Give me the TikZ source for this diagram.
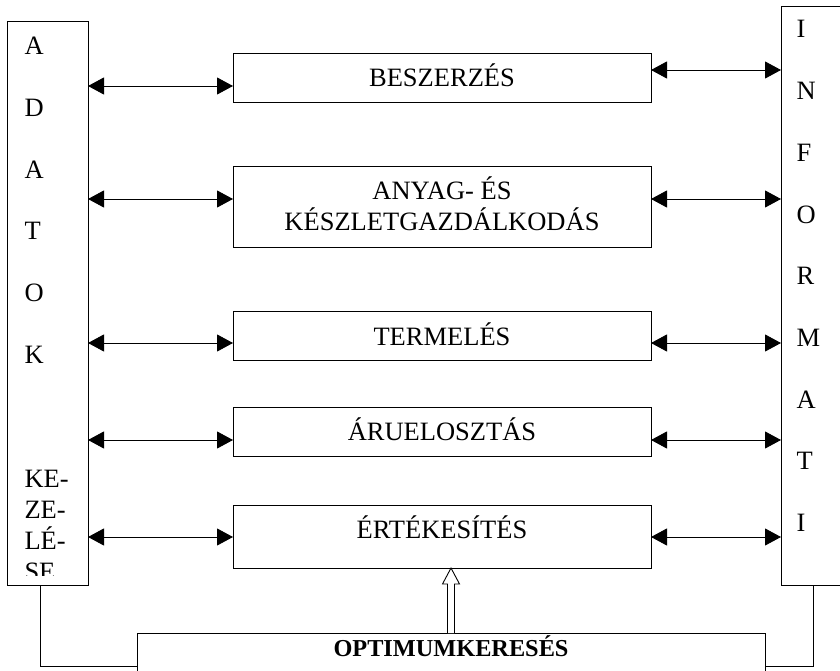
\documentclass[tikz,border=0pt]{standalone}
\usepackage{fontspec}
\setmainfont{Liberation Serif}
\usetikzlibrary{arrows.meta,calc}
\begin{document}
\begin{tikzpicture}[x=1pt,y=-1pt,
  every node/.style={inner sep=0pt,outer sep=0pt},
  box/.style={draw,line width=0.9pt},
  midbox/.style={box,minimum width=418pt},
  txt/.style={font=\fontsize{26.5}{30.5}\selectfont,anchor=base},
  lt/.style={font=\fontsize{26.5}{30.5}\selectfont,anchor=base west},
  biarr/.style={line width=0.9pt,{Triangle[length=16pt,width=17pt]}-{Triangle[length=16pt,width=17pt]}},
  conn/.style={line width=0.9pt}]
\useasboundingbox (0,0) rectangle (840,671);
\clip (0,0) rectangle (840,671);
% side columns
\node[box,minimum width=81pt,minimum height=564pt,anchor=north west] (adat) at (7,21) {};
\node[box,minimum width=70pt,minimum height=579pt,anchor=north west] (info) at (781,6) {};
% middle boxes
\node[midbox,minimum height=49pt] (besz) at (442,77.5) {};
\node[midbox,minimum height=81pt] (anyag) at (442,206.5) {};
\node[midbox,minimum height=49pt] (term) at (442,335.5) {};
\node[midbox,minimum height=49pt] (aru) at (442,431.5) {};
\node[midbox,minimum height=63pt] (ert) at (442,536.5) {};
\node[box,minimum width=628pt,minimum height=60pt,anchor=north] (opt) at (451,633) {};
% box texts
\node[txt] (tbesz) at (442,87) {BESZERZÉS};
\node[txt] (tanyag1) at (442,199.5) {ANYAG- ÉS};
\node[txt] (tanyag2) at (442,230.5) {KÉSZLETGAZDÁLKODÁS};
\node[txt] (tterm) at (442,345) {TERMELÉS};
\node[txt] (taru) at (442,440.5) {ÁRUELOSZTÁS};
\node[txt] (tert) at (442,538) {ÉRTÉKESÍTÉS};
\node[anchor=base,font=\fontsize{24.3}{28}\selectfont\bfseries] (topt) at (451,656) {OPTIMUMKERESÉS};
% left column letters
\begin{scope}
\clip (7,21) rectangle (88,575);
\node[lt] (l1) at (24.5,55) {A};
\node[lt] (l2) at (24.5,116.6) {D};
\node[lt] (l3) at (24.5,178.2) {A};
\node[lt] (l4) at (24.5,239.8) {T};
\node[lt] (l5) at (24.5,301.4) {O};
\node[lt] (l6) at (24.5,363) {K};
\node[lt] (l7) at (24.5,487) {KE-};
\node[lt] (l8) at (24.5,518) {ZE-};
\node[lt] (l9) at (24.5,549) {LÉ-};
\node[lt] (l10) at (24.5,580) {SE};
\end{scope}
% right column letters
\node[lt] (r1) at (796.5,38) {I};
\node[lt] (r2) at (796.5,99.7) {N};
\node[lt] (r3) at (796.5,161.4) {F};
\node[lt] (r4) at (796.5,223.1) {O};
\node[lt] (r5) at (796.5,284.8) {R};
\node[lt] (r6) at (796.5,346.5) {M};
\node[lt] (r7) at (796.5,408.2) {A};
\node[lt] (r8) at (796.5,469.9) {T};
\node[lt] (r9) at (796.5,531.6) {I};
% left arrows
\draw[biarr] (adat.east |- 0,86) -- (besz.west |- 0,86);
\draw[biarr] (adat.east |- 0,199) -- (anyag.west |- 0,199);
\draw[biarr] (adat.east |- 0,343) -- (term.west |- 0,343);
\draw[biarr] (adat.east |- 0,440) -- (aru.west |- 0,440);
\draw[biarr] (adat.east |- 0,537) -- (ert.west |- 0,537);
% right arrows
\draw[biarr] (besz.east |- 0,70) -- (info.west |- 0,70);
\draw[biarr] (anyag.east |- 0,199) -- (info.west |- 0,199);
\draw[biarr] (term.east |- 0,343) -- (info.west |- 0,343);
\draw[biarr] (aru.east |- 0,440) -- (info.west |- 0,440);
\draw[biarr] (ert.east |- 0,537) -- (info.west |- 0,537);
% connectors to optimum box
\draw[conn] ($(adat.south west)+(33,0)$) |- ($(opt.north west)+(0,33)$);
\draw[conn] ($(info.south west)+(32,0)$) |- ($(opt.north east)+(0,33)$);
% hollow arrow
\coordinate (tip) at (opt.north |- ert.south);
\draw[conn,fill=white] ($(opt.north)+(-3.5,0)$) -- ($(tip)+(-3.5,16)$) -- ($(tip)+(-8.5,16)$) -- (tip) -- ($(tip)+(8.5,16)$) -- ($(tip)+(3.5,16)$) -- ($(opt.north)+(3.5,0)$);
\end{tikzpicture}
\end{document}
